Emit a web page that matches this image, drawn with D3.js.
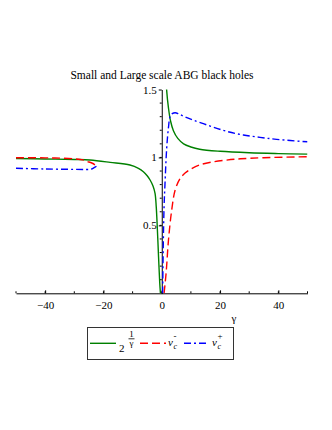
<!DOCTYPE html>
<html>
<head>
<meta charset="utf-8">
<script src="https://cdn.jsdelivr.net/npm/d3@7"></script>
<style>
body { margin: 0; background: #fff; }
text { font-family: "Liberation Serif", "DejaVu Serif", serif; }
</style>
</head>
<body>
<script>
// values
var title = "Small and Large scale ABG black holes";

var greenLeftX = [-50, -40, -30, -24.6, -17.7, -10.9, -8, -6.3, -5, -4, -3, -2.3, -1.9, -1.5, -1.1, -0.7, -0.45];
var greenLeftY = [0.992, 0.989, 0.985, 0.981, 0.964, 0.944, 0.92, 0.895, 0.865, 0.834, 0.79, 0.736, 0.64, 0.47, 0.27, 0.08, 0];
var greenRightX = [1.45, 1.7, 2.3, 3, 4, 5.5, 7.5, 10, 13, 20, 30, 40, 50];
var greenRightY = [1.62, 1.49, 1.365, 1.27, 1.197, 1.14, 1.1, 1.077, 1.06, 1.045, 1.034, 1.028, 1.024];

var redLeftX = [-50, -40, -35, -30, -27, -25.7, -24, -22.9, -22.4];
var redLeftY = [0.998, 0.997, 0.995, 0.99, 0.982, 0.971, 0.959, 0.945, 0.935];
var redRightX = [0.8, 1.5, 2.3, 3.4, 4.6, 6.3, 8, 10, 13, 17, 22, 27, 35, 50];
var redRightY = [0, 0.15, 0.39, 0.61, 0.76, 0.845, 0.885, 0.915, 0.945, 0.965, 0.98, 0.99, 0.998, 1.005];

var blueLeftX = [-50, -40, -30, -25.7, -24, -23.2, -22.4];
var blueLeftY = [0.92, 0.915, 0.912, 0.911, 0.915, 0.925, 0.935];
var blueRightX = [0.3, 0.55, 0.8, 1.1, 1.7, 2.3, 2.85, 3.6, 4.6, 6, 8, 10.8, 16.6, 22.3, 28, 33.7, 39.4, 50];
var blueRightY = [0, 0.39, 0.64, 0.8, 1.07, 1.22, 1.3, 1.322, 1.329, 1.318, 1.298, 1.275, 1.231, 1.192, 1.165, 1.148, 1.133, 1.115];

var xTicks = [-40, -20, 0, 20, 40];
var yTicks = [0.5, 1, 1.5];

var width = 332, height = 430;

var x = d3.scaleLinear().domain([-50, 50]).range([16, 307.5]);
var y = d3.scaleLinear().domain([0, 1.5]).range([293.3, 89.5]);

var svg = d3.select("body").append("svg")
    .attr("width", width)
    .attr("height", height);

svg.append("defs").append("clipPath").attr("id", "plotclip")
    .append("rect")
    .attr("x", x(-50)).attr("y", y(1.5))
    .attr("width", x(50) - x(-50)).attr("height", y(0) - y(1.5));

svg.append("text")
    .attr("x", 162).attr("y", 79)
    .attr("text-anchor", "middle")
    .style("font-size", "11.5px")
    .text(title);

// x axis with labels
var xAxis = svg.append("g")
    .attr("transform", "translate(0," + y(0) + ")")
    .call(d3.axisBottom(x).tickValues(xTicks).tickSizeInner(-3).tickSizeOuter(0).tickPadding(8));
xAxis.selectAll(".tick text").style("font-size", "11px");
// minor ticks
svg.append("g").selectAll("line")
    .data(d3.range(-50, 51, 10))
    .enter().append("line")
    .attr("x1", function(d) { return x(d); })
    .attr("x2", function(d) { return x(d); })
    .attr("y1", y(0)).attr("y2", y(0) - 2)
    .attr("stroke", "#000");

var yAxis = svg.append("g")
    .attr("transform", "translate(" + x(0) + ",0)")
    .call(d3.axisLeft(y).tickValues(yTicks).tickFormat(d3.format("")).tickSizeInner(3).tickSizeOuter(0).tickPadding(2));
yAxis.selectAll(".tick text").style("font-size", "11px");
svg.append("g").selectAll("line")
    .data(d3.range(1, 15))
    .enter().append("line")
    .attr("x1", x(0)).attr("x2", x(0) - 2)
    .attr("y1", function(d) { return y(d / 10); })
    .attr("y2", function(d) { return y(d / 10); })
    .attr("stroke", "#000");
xAxis.selectAll(".domain, line").attr("stroke", "#000");
yAxis.selectAll(".domain, line").attr("stroke", "#000");

svg.append("text")
    .attr("x", 234).attr("y", 322)
    .attr("text-anchor", "middle")
    .style("font-size", "11px")
    .text("γ");

var line = d3.line()
    .x(function(d) { return x(d[0]); })
    .y(function(d) { return y(d[1]); })
    .curve(d3.curveCatmullRom.alpha(0.5));

function pairs(xs, ys) {
    return xs.map(function(v, i) { return [v, ys[i]]; });
}

var plot = svg.append("g").attr("clip-path", "url(#plotclip)");

var series = [
    {color: "#008000", dash: null, parts: [pairs(greenLeftX, greenLeftY), pairs(greenRightX, greenRightY)]},
    {color: "#ff0000", dash: "8,4", parts: [pairs(redLeftX, redLeftY), pairs(redRightX, redRightY)]},
    {color: "#0000ff", dash: "7,3,2,3", parts: [pairs(blueLeftX, blueLeftY), pairs(blueRightX, blueRightY)]}
];

series.forEach(function(s) {
    s.parts.forEach(function(p) {
        plot.append("path")
            .attr("d", line(p))
            .attr("fill", "none")
            .attr("stroke", s.color)
            .attr("stroke-width", 1.4)
            .attr("stroke-dasharray", s.dash);
    });
});

// legend
var leg = svg.append("g");
leg.append("rect")
    .attr("x", 87.5).attr("y", 327.5)
    .attr("width", 146).attr("height", 32)
    .attr("fill", "none").attr("stroke", "#333").attr("stroke-width", 1);

var legItems = [
    {color: "#008000", dash: null, x1: 90, x2: 116},
    {color: "#ff0000", dash: "8,4", x1: 140, x2: 166},
    {color: "#0000ff", dash: "7,3,2,3", x1: 184, x2: 209}
];
leg.selectAll("line.item")
    .data(legItems)
    .enter().append("line")
    .attr("class", "item")
    .attr("x1", function(d) { return d.x1; })
    .attr("x2", function(d) { return d.x2; })
    .attr("y1", 343.3).attr("y2", 343.3)
    .attr("stroke", function(d) { return d.color; })
    .attr("stroke-width", 1.4)
    .attr("stroke-dasharray", function(d) { return d.dash; });

// 2^(1/γ)
leg.append("text").attr("x", 119).attr("y", 352).style("font-size", "11px").text("2");
leg.append("text").attr("x", 131.5).attr("y", 337).attr("text-anchor", "middle").style("font-size", "9px").text("1");
leg.append("line").attr("x1", 128.5).attr("x2", 134.5).attr("y1", 338.8).attr("y2", 338.8).attr("stroke", "#000").attr("stroke-width", 0.8);
leg.append("text").attr("x", 131.5).attr("y", 346).attr("text-anchor", "middle").style("font-size", "9px").text("γ");

// nu_c^- and nu_c^+
function nuLabel(x0, sign) {
    leg.append("text").attr("x", x0).attr("y", 346).style("font-size", "11px").style("font-style", "italic").text("ν");
    leg.append("text").attr("x", x0 + 5.5).attr("y", 349).style("font-size", "8px").style("font-style", "italic").text("c");
    leg.append("text").attr("x", x0 + 5.5).attr("y", 339).style("font-size", "9px").text(sign);
}
nuLabel(168, "-");
nuLabel(212, "+");
</script>
</body>
</html>
